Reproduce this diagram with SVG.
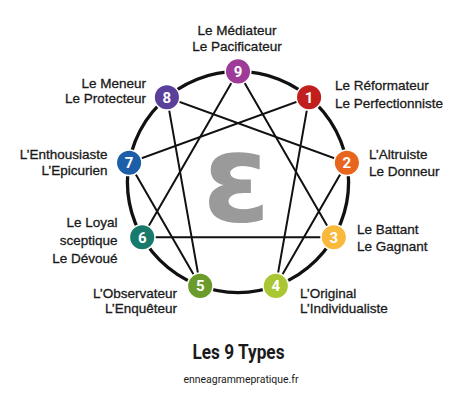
<svg xmlns="http://www.w3.org/2000/svg" width="474" height="404" viewBox="0 0 474 404">
<style>
.lbl{font-family:"Liberation Sans",Arial,sans-serif;font-size:13.5px;fill:#1a1a1a;stroke:#1a1a1a;stroke-width:0.3}
.r{text-anchor:end}
.num{font-family:Roboto,"Liberation Sans",sans-serif;font-weight:bold;font-size:15px;fill:#fff;text-anchor:middle}
.node{stroke:#fff;stroke-width:1.5}
.ln{stroke:#111;stroke-width:2;fill:none;stroke-linecap:round}
</style>
<rect width="474" height="404" fill="#fff"/>
<text x="236.5" y="188" font-family="DejaVu Sans,sans-serif" font-weight="bold" font-size="122" fill="#9a9a9a" text-anchor="middle" dominant-baseline="middle">ε</text>
<g id="connectors">
<circle cx="238" cy="182" r="110.6" fill="none" stroke="#111" stroke-width="3.3"/>
<polygon class="ln" points="238,71.4 333.8,237.3 142.2,237.3"/>
<polygon class="ln" points="309.1,97.3 275.8,285.9 346.9,162.8 166.9,97.3 200.2,285.9 129.1,162.8"/>
</g>
<g id="node9"><circle class="node" cx="238" cy="71.4" r="12.8" fill="#9e3a98"/><text class="num" x="238" y="76.9">9</text>
<text class="lbl" x="237" y="34.5" text-anchor="middle">Le Médiateur</text><text class="lbl" x="237" y="50.5" text-anchor="middle">Le Pacificateur</text></g>
<g id="node1"><circle class="node" cx="309.1" cy="97.3" r="12.8" fill="#c01f1e"/><text class="num" x="309.1" y="102.8">1</text>
<text class="lbl" x="335" y="90">Le Réformateur</text><text class="lbl" x="335" y="107.5">Le Perfectionniste</text></g>
<g id="node2"><circle class="node" cx="346.9" cy="162.8" r="12.8" fill="#e8651d"/><text class="num" x="346.9" y="168.3">2</text>
<text class="lbl" x="369" y="158.5">L’Altruiste</text><text class="lbl" x="369" y="176">Le Donneur</text></g>
<g id="node3"><circle class="node" cx="333.8" cy="237.3" r="12.8" fill="#f9b93a"/><text class="num" x="333.8" y="242.8">3</text>
<text class="lbl" x="357" y="233.5">Le Battant</text><text class="lbl" x="357" y="251">Le Gagnant</text></g>
<g id="node4"><circle class="node" cx="275.8" cy="285.9" r="12.8" fill="#a9c733"/><text class="num" x="275.8" y="291.4">4</text>
<text class="lbl" x="300" y="297.7">L’Original</text><text class="lbl" x="300" y="313.3">L’Individualiste</text></g>
<g id="node5"><circle class="node" cx="200.2" cy="285.9" r="12.8" fill="#6a9b2b"/><text class="num" x="200.2" y="291.4">5</text>
<text class="lbl r" x="177" y="297.7">L’Observateur</text><text class="lbl r" x="177" y="313.3">L’Enquêteur</text></g>
<g id="node6"><circle class="node" cx="142.2" cy="237.3" r="12.8" fill="#187a6b"/><text class="num" x="142.2" y="242.8">6</text>
<text class="lbl r" x="117.5" y="226.7">Le Loyal</text><text class="lbl r" x="117.5" y="244.5">sceptique</text><text class="lbl r" x="117.5" y="262.7">Le Dévoué</text></g>
<g id="node7"><circle class="node" cx="129.1" cy="162.8" r="12.8" fill="#1d5ea8"/><text class="num" x="129.1" y="168.3">7</text>
<text class="lbl r" x="107.5" y="159.3">L’Enthousiaste</text><text class="lbl r" x="107.5" y="174.5">L’Epicurien</text></g>
<g id="node8"><circle class="node" cx="166.9" cy="97.3" r="12.8" fill="#5a3f9b"/><text class="num" x="166.9" y="102.8">8</text>
<text class="lbl r" x="146" y="87.7">Le Meneur</text><text class="lbl r" x="146" y="103.3">Le Protecteur</text></g>
<text x="238.5" y="359.3" font-family="Roboto,'Liberation Sans',sans-serif" font-weight="bold" font-size="20" fill="#1a1a1a" text-anchor="middle" textLength="92" lengthAdjust="spacingAndGlyphs">Les 9 Types</text>
<text x="241" y="383.3" font-family="Roboto,'Liberation Sans',sans-serif" font-size="11" fill="#1a1a1a" text-anchor="middle" textLength="115" lengthAdjust="spacingAndGlyphs">enneagrammepratique.fr</text>
</svg>
